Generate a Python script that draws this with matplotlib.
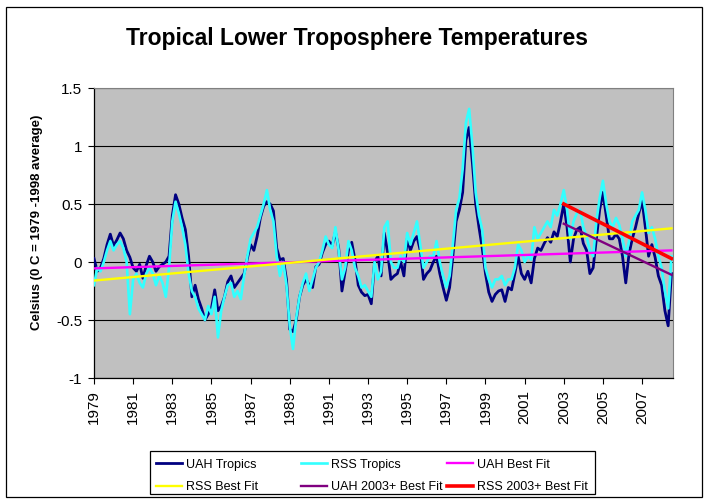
import numpy as np
import matplotlib
matplotlib.use("Agg")
import matplotlib.pyplot as plt
from matplotlib.patches import Rectangle

# bimonthly anomalies (deg C), Jan 1979 .. Jul 2008
uah_tropics = [
    0.03, -0.08, -0.05, 0.03, 0.15, 0.24,    # 1979
    0.14, 0.19, 0.25, 0.20, 0.10, 0.04,      # 1980
    -0.05, -0.08, -0.02, -0.14, -0.03, 0.05,  # 1981
    0.00, -0.08, -0.04, -0.02, 0.00, 0.05,   # 1982
    0.40, 0.58, 0.50, 0.38, 0.28, 0.05,      # 1983
    -0.30, -0.20, -0.32, -0.40, -0.50, -0.45,  # 1984
    -0.40, -0.24, -0.42, -0.38, -0.30, -0.17,  # 1985
    -0.12, -0.22, -0.18, -0.14, -0.10, 0.03,   # 1986
    0.15, 0.10, 0.22, 0.38, 0.48, 0.52,      # 1987
    0.50, 0.44, 0.12, 0.02, 0.03, -0.15,     # 1988
    -0.58, -0.60, -0.50, -0.30, -0.20, -0.15,  # 1989
    -0.20, -0.22, -0.04, -0.02, 0.08, 0.15,   # 1990
    0.18, 0.14, 0.26, 0.12, -0.25, -0.08,    # 1991
    0.10, 0.17, 0.02, -0.20, -0.26, -0.29,   # 1992
    -0.28, -0.36, 0.00, 0.05, -0.12, 0.25,   # 1993
    0.08, -0.15, -0.12, -0.10, 0.00, -0.12,  # 1994
    0.20, 0.10, 0.18, 0.22, 0.10, -0.15,     # 1995
    -0.10, -0.07, 0.00, 0.05, -0.10, -0.22,  # 1996
    -0.33, -0.22, 0.05, 0.35, 0.45, 0.60,    # 1997
    1.05, 1.16, 0.85, 0.50, 0.30, 0.12,      # 1998
    -0.10, -0.26, -0.34, -0.28, -0.25, -0.24,  # 1999
    -0.34, -0.22, -0.24, -0.10, 0.05, -0.10,   # 2000
    -0.15, -0.08, -0.18, 0.03, 0.12, 0.10,   # 2001
    0.16, 0.21, 0.17, 0.26, 0.22, 0.35,      # 2002
    0.50, 0.30, 0.00, 0.20, 0.28, 0.30,      # 2003
    0.16, 0.10, -0.10, -0.05, 0.20, 0.45,    # 2004
    0.60, 0.40, 0.20, 0.20, 0.24, 0.20,      # 2005
    0.05, -0.18, 0.07, 0.20, 0.30, 0.42,     # 2006
    0.53, 0.30, 0.05, 0.15, 0.04, -0.12,     # 2007
    -0.20, -0.42, -0.55, -0.10,              # 2008
]

rss_tropics = [
    -0.20, -0.05, -0.08, 0.00, 0.10, 0.18,   # 1979
    0.10, 0.15, 0.18, 0.12, 0.00, -0.45,     # 1980
    -0.15, -0.10, -0.18, -0.22, -0.10, -0.05,  # 1981
    -0.10, -0.20, -0.12, -0.18, -0.30, -0.05,  # 1982
    0.35, 0.52, 0.42, 0.30, 0.15, -0.10,     # 1983
    -0.25, -0.30, -0.40, -0.45, -0.50, -0.38,  # 1984
    -0.45, -0.30, -0.65, -0.42, -0.30, -0.20,  # 1985
    -0.18, -0.30, -0.25, -0.32, -0.12, 0.05,   # 1986
    0.20, 0.25, 0.30, 0.40, 0.50, 0.62,      # 1987
    0.45, 0.35, 0.05, -0.12, 0.00, -0.20,    # 1988
    -0.55, -0.75, -0.48, -0.30, -0.18, -0.10,  # 1989
    -0.25, -0.15, -0.05, 0.00, 0.10, 0.22,   # 1990
    0.15, 0.12, 0.30, 0.10, -0.15, -0.05,    # 1991
    0.18, 0.10, -0.05, -0.12, -0.22, -0.20,  # 1992
    -0.25, -0.30, 0.00, -0.15, -0.08, 0.30,  # 1993
    0.35, 0.00, -0.05, -0.05, 0.05, 0.00,    # 1994
    0.25, 0.15, 0.25, 0.35, 0.15, -0.05,     # 1995
    0.00, 0.05, 0.05, 0.18, 0.00, -0.12,     # 1996
    -0.22, -0.12, 0.15, 0.45, 0.55, 0.80,    # 1997
    1.20, 1.32, 1.00, 0.60, 0.40, 0.28,      # 1998
    -0.05, -0.15, -0.22, -0.15, -0.15, -0.12,  # 1999
    -0.20, -0.15, -0.15, -0.05, 0.15, 0.10,  # 2000
    0.00, 0.05, 0.02, 0.30, 0.20, 0.25,      # 2001
    0.30, 0.35, 0.30, 0.45, 0.40, 0.50,      # 2002
    0.62, 0.45, 0.20, 0.35, 0.42, 0.45,      # 2003
    0.30, 0.22, 0.10, 0.05, 0.35, 0.55,      # 2004
    0.70, 0.50, 0.35, 0.30, 0.38, 0.32,      # 2005
    0.20, 0.05, 0.18, 0.35, 0.40, 0.45,      # 2006
    0.60, 0.45, 0.25, 0.30, 0.20, 0.05,      # 2007
    -0.05, -0.25, -0.40, 0.05,               # 2008
]

# linear fits, end points only
fit_years = [1979.0, 2008.5]
uah_fit = [-0.055, 0.10]
rss_fit = [-0.16, 0.29]
recent_years = [2003.0, 2008.5]
uah_2003_fit = [0.33, -0.11]
rss_2003_fit = [0.50, 0.03]

tick_years = list(range(1979, 2008, 2))
y_ticks = [-1, -0.5, 0, 0.5, 1, 1.5]
y_tick_labels = ["-1", "-0.5", "0", "0.5", "1", "1.5"]

plt.rcParams['font.family'] = ['Liberation Sans', 'DejaVu Sans']

W, H = 710, 503
fig = plt.figure(figsize=(W / 100, H / 100), dpi=100)
ax = fig.add_axes([94 / W, 1 - 378 / H, (673 - 94) / W, (378 - 88) / H])
ax.set_facecolor('#c0c0c0')

years = 1979 + np.arange(len(uah_tropics)) / 6

l_uah, = ax.plot(years, uah_tropics, color='#000080', lw=2.0, label='UAH Tropics', zorder=3)
l_rss, = ax.plot(years, rss_tropics, color='#33ffff', lw=1.9, label='RSS Tropics', zorder=4)
l_uf, = ax.plot(fit_years, uah_fit, color='#ff00ff', lw=1.7, label='UAH Best Fit', zorder=5)
l_rf, = ax.plot(fit_years, rss_fit, color='#ffff00', lw=1.7, label='RSS Best Fit', zorder=5)
l_u3, = ax.plot(recent_years, uah_2003_fit, color='#800080', lw=1.7, label='UAH 2003+ Best Fit', zorder=6)
l_r3, = ax.plot(recent_years, rss_2003_fit, color='#ff0000', lw=2.6, label='RSS 2003+ Best Fit', zorder=7)

ax.set_xlim(1979, 2008.58)
ax.set_ylim(-1, 1.5)
ax.set_xticks(tick_years)
ax.set_xticklabels([str(y) for y in tick_years], rotation=90, fontsize=11)
ax.set_yticks(y_ticks)
ax.set_yticklabels(y_tick_labels, fontsize=11)
ax.tick_params(axis='both', direction='out', length=4.5, width=0.8, pad=4, colors='black')
ax.yaxis.grid(True, color='black', lw=0.8)
ax.set_axisbelow(True)
for side in ('top', 'right'):
    ax.spines[side].set_color('#808080')
    ax.spines[side].set_linewidth(0.8)
for side in ('left', 'bottom'):
    ax.spines[side].set_linewidth(0.9)

fig.text(357 / W, 1 - 38 / H, 'Tropical Lower Troposphere Temperatures',
         fontsize=16.5, fontweight='bold', ha='center', va='center')
fig.text(37 / W, 1 - 222 / H, 'Celsius (0 C = 1979 -1998 average)',
         fontsize=9.5, fontweight='bold', rotation=90, ha='center', va='center')

# outer chart frame and legend box
fig.patches.append(Rectangle((6 / W, 1 - 497 / H), 696 / W, 490 / H, transform=fig.transFigure,
                             fill=False, edgecolor='black', lw=0.9))
fig.patches.append(Rectangle((150 / W, 1 - 494 / H), 445 / W, 43 / H, transform=fig.transFigure,
                             fill=False, edgecolor='black', lw=0.9))

# legend: three columns placed like the Excel legend
columns = [(156, [l_uah, l_rf]), (301, [l_rss, l_u3]), (447, [l_uf, l_r3])]
for x0, handles in columns:
    fig.legend(handles=handles, loc='center left', bbox_to_anchor=(x0 / W, 1 - 476 / H),
               frameon=False, fontsize=9, handlelength=2.1, handletextpad=0.3,
               borderpad=0, borderaxespad=0, labelspacing=0.85)

fig.savefig('out.png', dpi=100)
